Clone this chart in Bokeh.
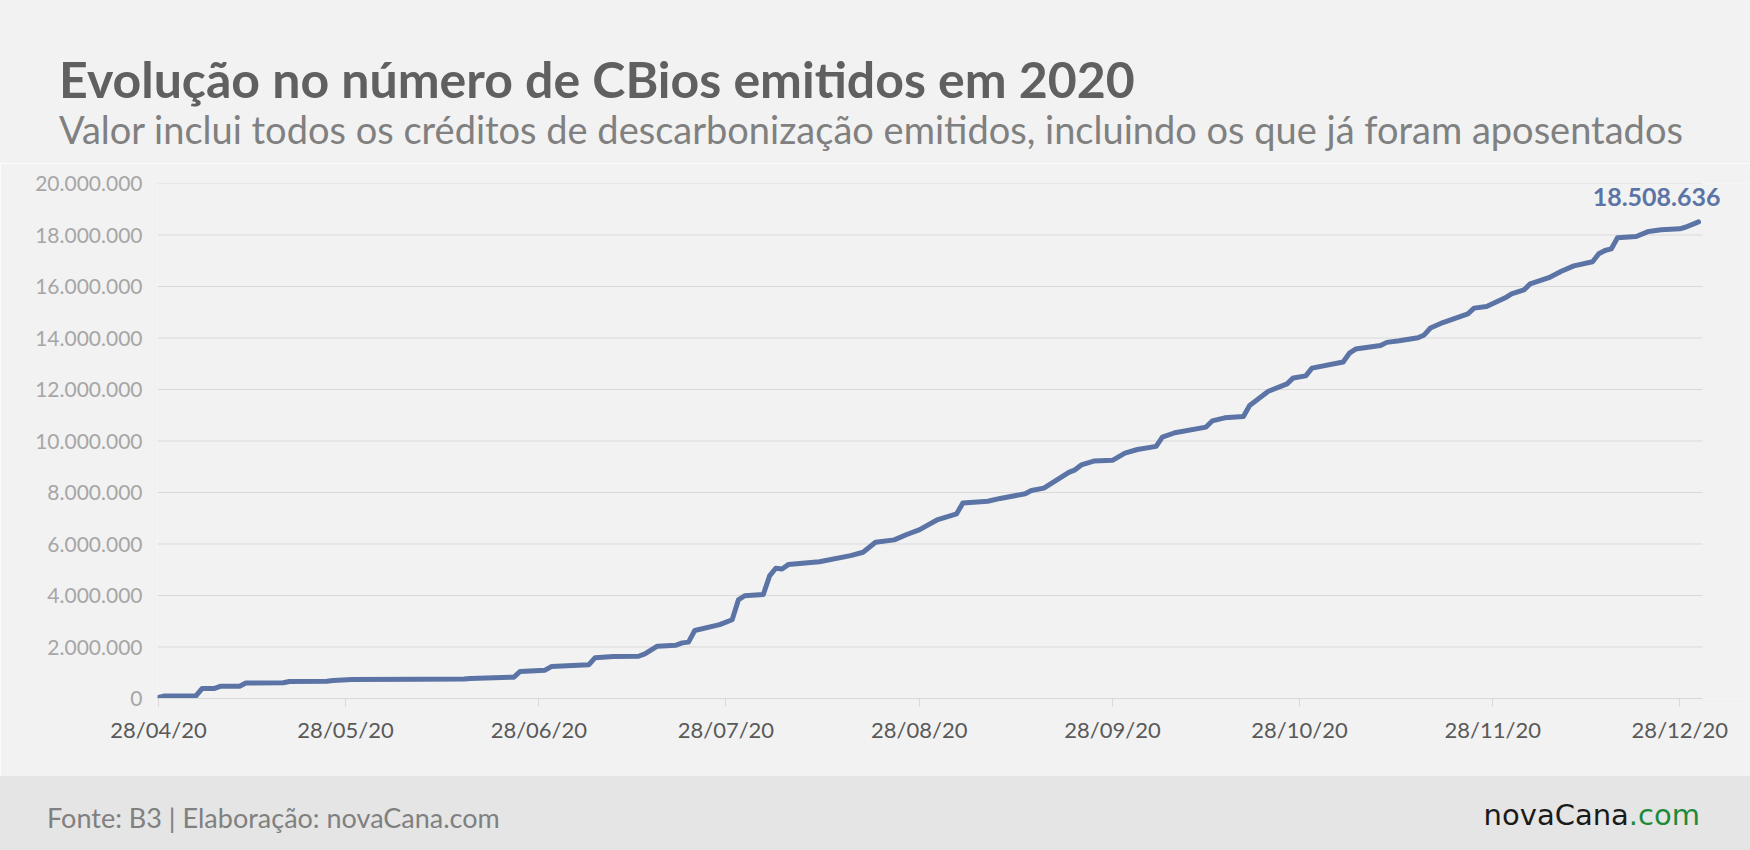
import pandas as pd
from bokeh.plotting import figure
from bokeh.layouts import column
from bokeh.models import Range1d, FixedTicker, DatetimeTickFormatter, Label, Div
from bokeh.embed import file_html
from bokeh.resources import INLINE

# CBios emitidos (acumulado)
dates = ["2020-04-28", "2020-04-29", "2020-05-04", "2020-05-05", "2020-05-07", "2020-05-08",
         "2020-05-11", "2020-05-12", "2020-05-18", "2020-05-19", "2020-05-25", "2020-05-26",
         "2020-05-29", "2020-06-09", "2020-06-16", "2020-06-17", "2020-06-24", "2020-06-25",
         "2020-06-29", "2020-06-30", "2020-07-06", "2020-07-07", "2020-07-10", "2020-07-14",
         "2020-07-15", "2020-07-17", "2020-07-20", "2020-07-21", "2020-07-22", "2020-07-23",
         "2020-07-27", "2020-07-29", "2020-07-30", "2020-07-31", "2020-08-03", "2020-08-04",
         "2020-08-05", "2020-08-06", "2020-08-07", "2020-08-12", "2020-08-17", "2020-08-19",
         "2020-08-21", "2020-08-24", "2020-08-26", "2020-08-28", "2020-08-31", "2020-09-03",
         "2020-09-04", "2020-09-08", "2020-09-10", "2020-09-14", "2020-09-15", "2020-09-17",
         "2020-09-21", "2020-09-22", "2020-09-23", "2020-09-25", "2020-09-28", "2020-09-30",
         "2020-10-02", "2020-10-05", "2020-10-06", "2020-10-08", "2020-10-13", "2020-10-14",
         "2020-10-16", "2020-10-19", "2020-10-20", "2020-10-23", "2020-10-26", "2020-10-27",
         "2020-10-29", "2020-10-30", "2020-11-04", "2020-11-05", "2020-11-06", "2020-11-10",
         "2020-11-11", "2020-11-13", "2020-11-16", "2020-11-17", "2020-11-18", "2020-11-20",
         "2020-11-24", "2020-11-25", "2020-11-27", "2020-11-30", "2020-12-01", "2020-12-03",
         "2020-12-04", "2020-12-07", "2020-12-09", "2020-12-11", "2020-12-14", "2020-12-15",
         "2020-12-16", "2020-12-17", "2020-12-18", "2020-12-21", "2020-12-23", "2020-12-25",
         "2020-12-28", "2020-12-29", "2020-12-31"]
cbios = [40000, 100000, 100000, 390000, 390000, 480000,
         480000, 600000, 610000, 660000, 670000, 700000,
         740000, 745000, 760000, 780000, 830000, 1050000,
         1100000, 1240000, 1310000, 1580000, 1630000, 1640000,
         1730000, 2030000, 2070000, 2160000, 2190000, 2640000,
         2870000, 3060000, 3830000, 3990000, 4040000, 4760000,
         5060000, 5030000, 5200000, 5310000, 5550000, 5680000,
         6070000, 6160000, 6370000, 6550000, 6950000, 7170000,
         7590000, 7660000, 7770000, 7950000, 8080000, 8170000,
         8780000, 8880000, 9070000, 9220000, 9250000, 9530000,
         9670000, 9790000, 10150000, 10320000, 10540000, 10780000,
         10900000, 10950000, 11380000, 11930000, 12220000, 12450000,
         12530000, 12830000, 13070000, 13410000, 13570000, 13710000,
         13830000, 13890000, 14010000, 14120000, 14390000, 14600000,
         14940000, 15160000, 15220000, 15560000, 15710000, 15870000,
         16100000, 16340000, 16590000, 16800000, 16960000, 17270000,
         17400000, 17460000, 17890000, 17940000, 18140000, 18200000,
         18240000, 18310000, 18508636]

tick_dates = ["2020-04-28", "2020-05-28", "2020-06-28", "2020-07-28", "2020-08-28",
              "2020-09-28", "2020-10-28", "2020-11-28", "2020-12-28"]
y_ticks = [0, 2000000, 4000000, 6000000, 8000000, 10000000,
           12000000, 14000000, 16000000, 18000000, 20000000]

title = "Evolução no número de CBios emitidos em 2020"
subtitle = "Valor inclui todos os créditos de descarbonização emitidos, incluindo os que já foram aposentados"
fonte = "Fonte: B3 | Elaboração: novaCana.com"

BG = "#f2f2f2"
FOOT = "#e5e5e5"
BLUE = "#5b74a5"
GRID = "#d9d9d9"
FONT = "Lato"

x = pd.to_datetime(dates)
x_start = pd.Timestamp("2020-04-27 20:00")
x_end = pd.Timestamp("2021-01-08 08:00")     # espaco para o rotulo final
grid_end = pd.Timestamp("2020-12-31 15:30")


def ms(d):
    return pd.Timestamp(d).timestamp() * 1000


# cabecalho
head = Div(width=1750, height=163, margin=0, styles={"background-color": BG},
           text=f"""<div style="position:relative;width:1750px;height:163px;background:{BG};white-space:nowrap">
<div style="position:absolute;left:59px;top:49px;line-height:1;font:bold 50px {FONT};color:#606060">{title}</div>
<div style="position:absolute;left:59px;top:106px;line-height:1;font:38px {FONT};color:#808080">{subtitle}</div>
</div>""")

p = figure(width=1750, height=613, x_axis_type="datetime",
           x_range=Range1d(x_start, x_end), y_range=Range1d(0, 20000000),
           toolbar_location=None, output_backend="svg",
           background_fill_color=BG, border_fill_color=BG,
           min_border_left=157, min_border_right=0, min_border_top=20, min_border_bottom=78)
p.outline_line_color = None

# linhas de grade horizontais (ate o fim da serie)
p.segment(x0=[x_start] * len(y_ticks), x1=[grid_end] * len(y_ticks), y0=y_ticks, y1=y_ticks,
          line_color=GRID, line_width=1)

p.line(x, cbios, line_width=5, color=BLUE, line_join="round", line_cap="round")

# eixos
p.xaxis.ticker = FixedTicker(ticks=[ms(d) for d in tick_dates])
p.xaxis.formatter = DatetimeTickFormatter(days="%d/%m/%y", months="%d/%m/%y", years="%d/%m/%y",
                                          hours="%d/%m/%y", minutes="%d/%m/%y")
p.xaxis.bounds = (ms(x_start), ms(grid_end))
p.xaxis.axis_line_color = GRID
p.xaxis.major_tick_line_color = GRID
p.xaxis.major_tick_out = 8
p.xaxis.major_tick_in = 0
p.xaxis.minor_tick_line_color = None
p.xaxis.major_label_text_font = FONT
p.xaxis.major_label_text_font_size = "22px"
p.xaxis.major_label_text_color = "#595959"
p.xaxis.major_label_standoff = 9

p.yaxis.ticker = FixedTicker(ticks=y_ticks)
p.yaxis.major_label_overrides = {t: f"{t:,}".replace(",", ".") for t in y_ticks}
p.yaxis.axis_line_color = None
p.yaxis.major_tick_line_color = None
p.yaxis.major_tick_out = 0
p.yaxis.minor_tick_line_color = None
p.yaxis.major_label_text_font = FONT
p.yaxis.major_label_text_font_size = "21px"
p.yaxis.major_label_text_color = "#a6a6a6"
p.yaxis.major_label_standoff = 15

p.grid.visible = False

# ultimo valor
p.add_layout(Label(x=ms(dates[-1]), y=cbios[-1], text=f"{cbios[-1]:,}".replace(",", "."),
                   x_offset=22, y_offset=25, text_align="right", text_baseline="alphabetic",
                   text_font=FONT, text_font_style="bold", text_font_size="25px", text_color=BLUE))

# rodape
foot = Div(width=1750, height=74, margin=0, styles={"background-color": FOOT},
           text=f"""<div style="position:relative;width:1750px;height:74px;background:{FOOT};white-space:nowrap">
<div style="position:absolute;left:47px;top:25px;line-height:1;font:27px {FONT};color:#808080">{fonte}</div>
<div style="position:absolute;right:50px;top:22px;line-height:1;font:29px 'DejaVu Sans';color:#1a1a1a">novaCana<span style="color:#1e8a3c">.com</span></div>
</div>""")

layout = column(head, p, foot, spacing=0)
open("out.html", "w").write(file_html(layout, INLINE))
